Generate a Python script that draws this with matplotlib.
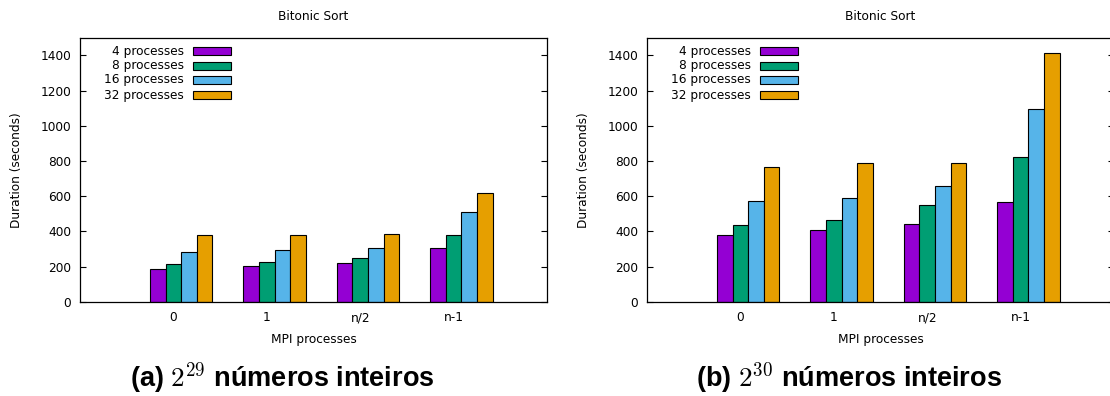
#!/usr/bin/env python3
"""
Bitonic sort timings, 2^29 and 2^30 integers, gnuplot-style clustered bars.
"""
import sys
import numpy as np
import matplotlib; matplotlib.use('Agg'); import matplotlib.pyplot as plt
from matplotlib.patches import Rectangle

categories = ['0', '1', 'n/2', 'n-1']
series_labels = ['4 processes', '8 processes', '16 processes', '32 processes']
colors = ['#9400d3', '#009e73', '#56b4e9', '#e69f00']

# duration (seconds), one row per process count, columns follow categories
times_2_29 = [
    [184, 203, 218, 303],
    [216, 224, 246, 379],
    [282, 294, 305, 508],
    [377, 381, 383, 620],
]
times_2_30 = [
    [377, 407, 441, 566],
    [438, 464, 547, 820],
    [570, 591, 655, 1093],
    [767, 786, 790, 1413],
]
captions = [r'(a) $2^{29}$ números inteiros', r'(b) $2^{30}$ números inteiros']

W, H = 1110, 396
FS = 8.7


def px(x, y):
    return x / W, (H - y) / H


def draw_panel(fig, left_px, data, caption, cap_x):
    x0, y0 = px(left_px, 301.7)
    ax = fig.add_axes([x0, y0, 467 / W, 264 / H])
    bw = 1 / 6
    xs = np.arange(len(categories))
    for i, (vals, col) in enumerate(zip(data, colors)):
        ax.bar(xs + (i - 1) * bw, vals, width=bw, color=col, edgecolor='black', linewidth=0.8, zorder=2)
    ax.set_xlim(-1, 4); ax.set_ylim(0, 1500)
    ax.set_yticks(range(0, 1401, 200))
    ax.tick_params(axis='y', direction='in', length=4.5, width=0.8, left=True, right=True, pad=6.5, labelsize=FS)
    ax.tick_params(axis='x', length=0, pad=14, labelsize=FS)
    ax.set_xticks(xs)
    ax.set_xticklabels(categories, va='baseline')
    for s in ax.spines.values():
        s.set_linewidth(0.9)

    # legend, gnuplot style: right-aligned text then swatch
    rows = [51, 66, 80, 95]
    for lab, col, ry in zip(series_labels, colors, rows):
        yf = (301.7 - ry) / 264
        ax.text(104 / 467, yf, lab, transform=ax.transAxes, ha='right', va='center', fontsize=FS)
        ax.add_patch(Rectangle((113 / 467, yf - 0.0135), 38 / 467, 0.027, transform=ax.transAxes,
                               facecolor=col, edgecolor='black', linewidth=0.8, clip_on=False))

    cx = left_px + 467 / 2
    fig.text(*px(cx, 17), 'Bitonic Sort', ha='center', va='center', fontsize=FS)
    fig.text(*px(cx, 339), 'MPI processes', ha='center', va='center', fontsize=FS)
    fig.text(*px(left_px - 63.3, 170), 'Duration (seconds)', rotation=90, ha='center', va='center', fontsize=FS)
    fig.text(*px(cap_x, 387), caption, ha='center', va='baseline', fontsize=19.5,
             fontweight='bold', family='Liberation Sans')
    return ax


def main():
    plt.rcParams['font.family'] = ['DejaVu Sans']
    plt.rcParams['mathtext.fontset'] = 'cm'
    fig = plt.figure(figsize=(W / 100, H / 100), dpi=100)
    draw_panel(fig, 80, times_2_29, captions[0], 282.5)
    draw_panel(fig, 647, times_2_30, captions[1], 849)
    fig.savefig('out.png', dpi=100)
    plt.close(fig)
    return 0


if __name__ == '__main__':
    sys.exit(main())
